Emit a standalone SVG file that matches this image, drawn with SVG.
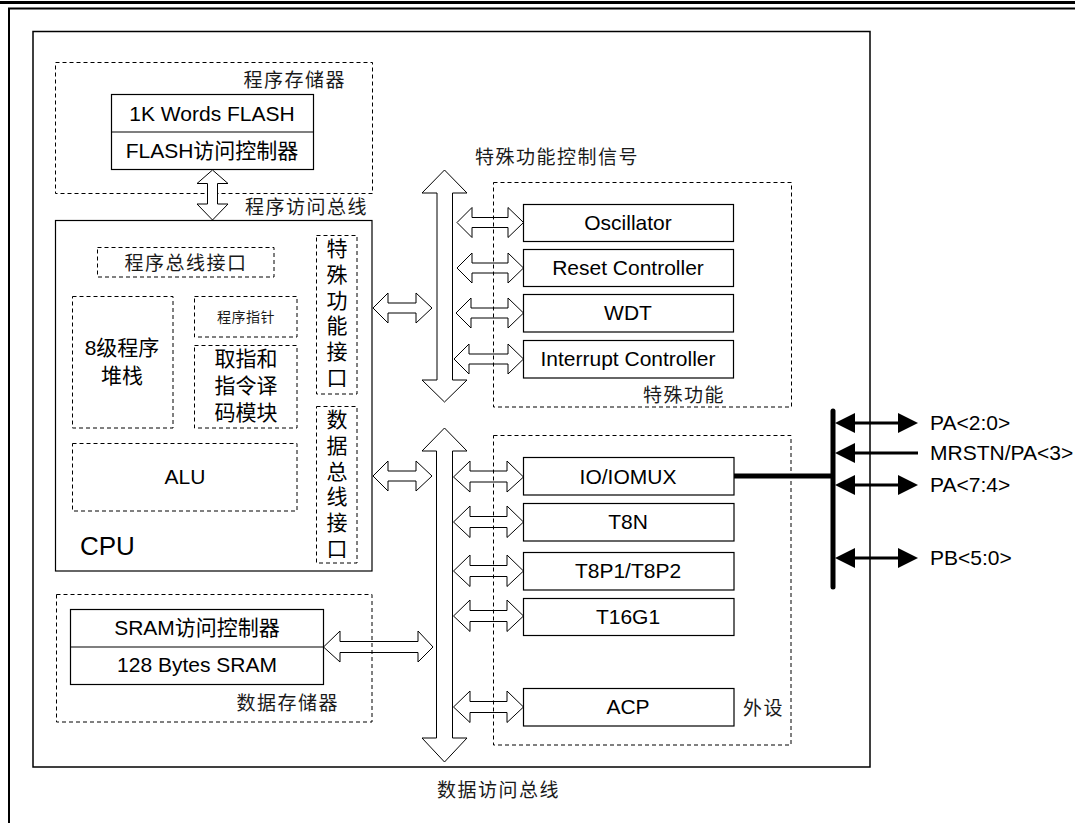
<svg xmlns="http://www.w3.org/2000/svg" width="1075" height="823" viewBox="0 0 1075 823">
<style>
.t{font-family:"Liberation Sans","Noto Sans CJK SC",Arial,sans-serif;font-size:21px;fill:#000}
.c{text-anchor:middle}
.e{text-anchor:end}
.zh{font-family:"Liberation Sans","Noto Sans CJK SC",sans-serif;font-size:19px;fill:#1a1a1a;letter-spacing:1.5px}
.box{fill:#fff;stroke:#000;stroke-width:1.2}
.dash{fill:none;stroke:#000;stroke-width:1;stroke-dasharray:4,3}
.ha{fill:#fff;stroke:#000;stroke-width:1}
.hn{fill:none;stroke:#000;stroke-width:1}
.pin{stroke:#000;stroke-width:3;fill:none}
.head{fill:#000}
</style>
<rect width="1075" height="823" fill="#fff"/>
<g id="frame">
<line x1="0" y1="2.5" x2="1075" y2="2.5" stroke="#000" stroke-width="3"/>
<line x1="8" y1="8.5" x2="1075" y2="8.5" stroke="#000" stroke-width="2"/>
<line x1="9" y1="8" x2="9" y2="823" stroke="#000" stroke-width="2"/>
<rect x="33" y="31.5" width="837" height="735.5" fill="none" stroke="#000" stroke-width="1.5"/>
</g>
<g id="program-memory">
<rect class="dash" x="55.5" y="62.5" width="317" height="131"/>
<text class="zh e" x="346" y="87">程序存储器</text>
</g>
<g id="flash">
<rect class="box" x="111.5" y="94.5" width="202" height="75"/>
<line x1="111.5" y1="132" x2="313.5" y2="132" stroke="#000" stroke-width="1.2"/>
<text class="t c" x="212" y="121">1K Words FLASH</text>
<text class="t c" x="212" y="158">FLASH访问控制器</text>
</g>
<g id="cpu">
<rect class="box" x="55.5" y="220.5" width="316.5" height="350.5"/>
<text class="t" x="80" y="555" style="font-size:26px">CPU</text>
</g>
<g id="prog-bus-if">
<rect class="dash" x="97.5" y="247.5" width="176.5" height="29.5"/>
<text class="zh c" x="186" y="270">程序总线接口</text>
</g>
<g id="stack">
<rect class="dash" x="72.5" y="296.5" width="100.5" height="131.5"/>
<text class="t c" x="122" y="355">8级程序</text>
<text class="t c" x="122" y="383">堆栈</text>
</g>
<g id="pc">
<rect class="dash" x="194.5" y="296.5" width="102.5" height="40.5"/>
<text class="zh c" x="246" y="322" style="font-size:14px;letter-spacing:0.5px">程序指针</text>
</g>
<g id="decode">
<rect class="dash" x="194.5" y="345.5" width="102.5" height="82.5"/>
<text class="t c" x="246" y="366">取指和</text>
<text class="t c" x="246" y="393">指令译</text>
<text class="t c" x="246" y="420">码模块</text>
</g>
<g id="alu">
<rect class="dash" x="72.5" y="443.5" width="224.5" height="67.5"/>
<text class="t c" x="185" y="484">ALU</text>
</g>
<g id="sf-if">
<rect class="dash" x="316.5" y="235.5" width="40.5" height="158.5"/>
<text class="t c" x="337" y="256">特</text>
<text class="t c" x="337" y="282">殊</text>
<text class="t c" x="337" y="308">功</text>
<text class="t c" x="337" y="333">能</text>
<text class="t c" x="337" y="359">接</text>
<text class="t c" x="337" y="385">口</text>
</g>
<g id="data-if">
<rect class="dash" x="316.5" y="406.5" width="40.5" height="156.5"/>
<text class="t c" x="337" y="427">数</text>
<text class="t c" x="337" y="453">据</text>
<text class="t c" x="337" y="479">总</text>
<text class="t c" x="337" y="504">线</text>
<text class="t c" x="337" y="530">接</text>
<text class="t c" x="337" y="556">口</text>
</g>
<g id="data-memory">
<rect class="dash" x="56.5" y="594.5" width="315.5" height="127.5"/>
<text class="zh e" x="339" y="710">数据存储器</text>
</g>
<g id="sram">
<rect class="box" x="70.5" y="609.5" width="253" height="75"/>
<line x1="70.5" y1="647" x2="323.5" y2="647" stroke="#000" stroke-width="1.2"/>
<text class="t c" x="197" y="635">SRAM访问控制器</text>
<text class="t c" x="197" y="672">128 Bytes SRAM</text>
</g>
<g id="special-function">
<rect class="dash" x="493.5" y="182.5" width="298" height="224.5"/>
<text class="zh e" x="725" y="402">特殊功能</text>
</g>
<g id="oscillator"><rect class="box" x="523.5" y="204.5" width="210" height="37"/><text class="t c" x="628" y="230">Oscillator</text></g>
<g id="reset"><rect class="box" x="523.5" y="249.5" width="210" height="37"/><text class="t c" x="628" y="275">Reset Controller</text></g>
<g id="wdt"><rect class="box" x="523.5" y="294.5" width="210" height="37.5"/><text class="t c" x="628" y="320">WDT</text></g>
<g id="interrupt"><rect class="box" x="523.5" y="340.5" width="210" height="37.5"/><text class="t c" x="628" y="366">Interrupt Controller</text></g>
<g id="peripherals">
<rect class="dash" x="493.5" y="435.5" width="297.5" height="309.5"/>
<text class="zh" x="743" y="715">外设</text>
</g>
<g id="iomux"><rect class="box" x="523.5" y="457.5" width="210.5" height="37.5"/><text class="t c" x="628" y="484">IO/IOMUX</text></g>
<g id="t8n"><rect class="box" x="523.5" y="503.5" width="210.5" height="37.5"/><text class="t c" x="628" y="529">T8N</text></g>
<g id="t8p"><rect class="box" x="523.5" y="552.5" width="210.5" height="37.5"/><text class="t c" x="628" y="578">T8P1/T8P2</text></g>
<g id="t16g1"><rect class="box" x="523.5" y="598.5" width="210.5" height="37"/><text class="t c" x="628" y="624">T16G1</text></g>
<g id="acp"><rect class="box" x="523.5" y="688.5" width="210.5" height="37.5"/><text class="t c" x="628" y="714">ACP</text></g>
<g id="labels">
<text class="zh" x="245" y="214">程序访问总线</text>
<text class="zh" x="475" y="164">特殊功能控制信号</text>
<text class="zh" x="437" y="797">数据访问总线</text>
<text class="t" x="930" y="430">PA&lt;2:0&gt;</text>
<text class="t" x="930" y="460">MRSTN/PA&lt;3&gt;</text>
<text class="t" x="930" y="492">PA&lt;7:4&gt;</text>
<text class="t" x="930" y="565">PB&lt;5:0&gt;</text>
</g>
<g id="connectors">
<polygon class="ha" points="212.5,170 228,183.5 217.5,183.5 217.5,204 228,204 212.5,220 197,204 207.5,204 207.5,183.5 197,183.5"/>
<polygon class="ha" points="444.5,170 467,193 452.5,193 452.5,380 467,380 444.5,402 422,380 437,380 437,193 422,193"/>
<polygon class="ha" points="444.5,428 467,451 452.5,451 452.5,738 467,738 444.5,762 422,738 436.5,738 436.5,451 422,451"/>
<polygon class="hn" points="373,308 388,293 388,303 416,303 416,293 432,308 416,323 416,313 388,313 388,323"/>
<polygon class="hn" points="373,476 388,461 388,471 416,471 416,461 432,476 416,491 416,481 388,481 388,491"/>
<polygon class="hn" points="323.5,647 340,631 340,641.5 418,641.5 418,631 433,647 418,662 418,652.5 340,652.5 340,662"/>
<polygon class="hn" points="457,222.5 472,207.5 472,217.5 508,217.5 508,207.5 523.5,222.5 508,237.5 508,227.5 472,227.5 472,237.5"/>
<polygon class="hn" points="457,268 472,253 472,263 508,263 508,253 523.5,268 508,283 508,273 472,273 472,283"/>
<polygon class="hn" points="456,313 471,298 471,308 508,308 508,298 523.5,313 508,328 508,318 471,318 471,328"/>
<polygon class="hn" points="454,359 469,344 469,354 508,354 508,344 523.5,359 508,374 508,364 469,364 469,374"/>
<polygon class="hn" points="453.5,477 470,461 470,471 507,471 507,461 523.5,477 507,492 507,482 470,482 470,492"/>
<polygon class="hn" points="453.5,522 470,506 470,516.5 507,516.5 507,506 523.5,522 507,537.5 507,527.5 470,527.5 470,537.5"/>
<polygon class="hn" points="453.5,571 470,555 470,565.5 507,565.5 507,555 523.5,571 507,586.5 507,576.5 470,576.5 470,586.5"/>
<polygon class="hn" points="453.5,616 470,600 470,610.5 507,610.5 507,600 523.5,616 507,631.5 507,621.5 470,621.5 470,631.5"/>
<polygon class="hn" points="453.5,707 470,691 470,701.5 507,701.5 507,691 523.5,707 507,722.5 507,712.5 470,712.5 470,722.5"/>
<line x1="734" y1="476" x2="833" y2="476" stroke="#000" stroke-width="5"/>
<line x1="833" y1="411" x2="833" y2="587" stroke="#000" stroke-width="5" stroke-linecap="round"/>
<line class="pin" x1="850" y1="423" x2="903" y2="423"/>
<polygon class="head" points="835,423 855,413 855,433"/>
<polygon class="head" points="918,423 898,413 898,433"/>
<line class="pin" x1="850" y1="453" x2="918" y2="453"/>
<polygon class="head" points="835,453 855,443 855,463"/>
<line class="pin" x1="850" y1="485" x2="903" y2="485"/>
<polygon class="head" points="835,485 855,475 855,495"/>
<polygon class="head" points="918,485 898,475 898,495"/>
<line class="pin" x1="850" y1="558" x2="903" y2="558"/>
<polygon class="head" points="835,558 855,548 855,568"/>
<polygon class="head" points="918,558 898,548 898,568"/>
</g>
</svg>
